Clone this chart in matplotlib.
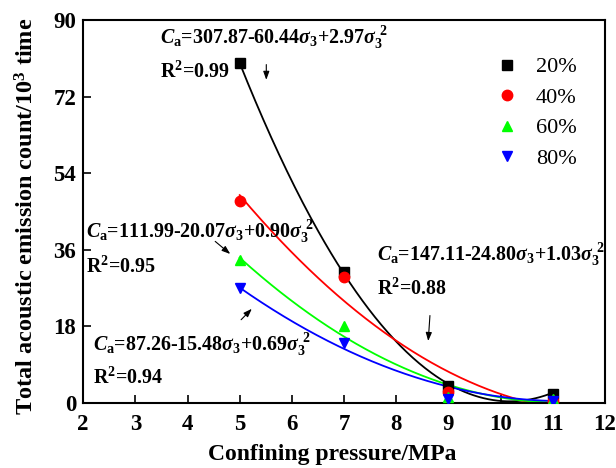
import numpy as np
import matplotlib
matplotlib.use("Agg")
import matplotlib.pyplot as plt

plt.rcParams['font.family'] = ['Liberation Serif', 'DejaVu Serif']
plt.rcParams['mathtext.fontset'] = 'custom'
plt.rcParams['mathtext.rm'] = 'Liberation Serif:bold'
plt.rcParams['mathtext.it'] = 'Liberation Serif:italic:bold'
plt.rcParams['mathtext.bf'] = 'Liberation Serif:bold'

# Confining pressure (MPa) and acoustic emission counts (10^3 times)
pressure = [5, 7, 9, 11]
labels = ['20%', '40%', '60%', '80%']
counts_20 = [80.0, 30.8, 4.0, 2.0]
counts_40 = [47.5, 29.5, 2.5, 0.5]
counts_60 = [33.5, 18.0, 1.5, 1.0]
counts_80 = [27.0, 14.0, 1.0, 0.5]

# Quadratic fit coefficients (c0, c1, c2) and R^2 for each series
fit_20 = (307.87, -60.44, 2.97)
fit_40 = (147.11, -24.80, 1.03)
fit_60 = (111.99, -20.07, 0.90)
fit_80 = (87.26, -15.48, 0.69)
r2_values = [0.99, 0.88, 0.95, 0.94]

colors = ['black', 'red', '#00ff00', 'blue']
markers = ['s', 'o', '^', 'v']

fig = plt.figure(figsize=(6.16, 4.68), dpi=100)
ax = fig.add_axes([0.135, 0.139, 0.847, 0.818])

series = [counts_20, counts_40, counts_60, counts_80]
fits = [fit_20, fit_40, fit_60, fit_80]
xs = np.linspace(5, 11, 200)
for vals, fit, c, m, lab in zip(series, fits, colors, markers, labels):
    ys = fit[0] + fit[1] * xs + fit[2] * xs ** 2
    ax.plot(xs, ys, color=c, lw=1.3, zorder=2)
    ax.plot(pressure, vals, linestyle='none', marker=m, color=c,
            markersize=7.5, label=lab, zorder=3)

ax.set_xlim(2, 12)
ax.set_ylim(0, 90)
ax.set_xticks(range(2, 13))
ax.set_yticks([0, 18, 36, 54, 72, 90])
ax.tick_params(direction='in', length=6, width=1.2, labelsize=16.5)
ax.tick_params(axis='x', pad=8)
ax.tick_params(axis='y', pad=5)
for t in ax.get_xticklabels() + ax.get_yticklabels():
    t.set_fontweight('bold')
for s in ax.spines.values():
    s.set_linewidth(1.5)

ax.set_xlabel('Confining pressure/MPa', fontsize=17, fontweight='bold')
ax.xaxis.set_label_coords(0.477, -0.108)
ax.set_ylabel(r'Total acoustic emission count/10$^\mathbf{3}$ time',
              fontsize=17.5, fontweight='bold')
ax.yaxis.set_label_coords(-0.086, 0.488)

leg = ax.legend(loc='upper right', bbox_to_anchor=(0.976, 0.945), frameon=False,
                fontsize=16, handletextpad=0.8, labelspacing=0.45,
                handlelength=1.0, borderaxespad=0.3)


def eq_text(fit):
    c0, c1, c2 = fit
    return (r'$\mathit{C}_{\mathrm{a}}$=%.2f-%.2f$\mathit{\sigma}_{\mathrm{3}}$'
            r'+%.2f$\mathit{\sigma}_{\mathrm{3}}^{\ \mathrm{2}}$' % (c0, -c1, c2))


txt_kw = dict(fontsize=14.4, fontweight='bold', va='center', ha='left')
ax.text(3.47, 85.9, eq_text(fit_20), **txt_kw)
ax.text(3.47, 77.8, r'R$^{\mathrm{2}}$=%.2f' % r2_values[0], **txt_kw)
ax.text(7.63, 34.8, eq_text(fit_40), **txt_kw)
ax.text(7.63, 26.8, r'R$^{\mathrm{2}}$=%.2f' % r2_values[1], **txt_kw)
ax.text(2.06, 40.2, eq_text(fit_60), **txt_kw)
ax.text(2.06, 32.0, r'R$^{\mathrm{2}}$=%.2f' % r2_values[2], **txt_kw)
ax.text(2.18, 13.6, eq_text(fit_80), **txt_kw)
ax.text(2.18, 5.9, r'R$^{\mathrm{2}}$=%.2f' % r2_values[3], **txt_kw)

arrow_kw = dict(arrowstyle='-|>,head_length=0.5,head_width=0.18', color='black', lw=0.8)
arrows = [((5.51, 80.2), (5.51, 75.3)),
          ((4.49, 38.4), (4.86, 34.6)),
          ((4.99, 19.1), (5.27, 22.6)),
          ((8.65, 21.2), (8.61, 13.9))]
for start, end in arrows:
    ax.annotate('', xy=end, xytext=start, arrowprops=arrow_kw)

fig.savefig('out.png', dpi=100)
